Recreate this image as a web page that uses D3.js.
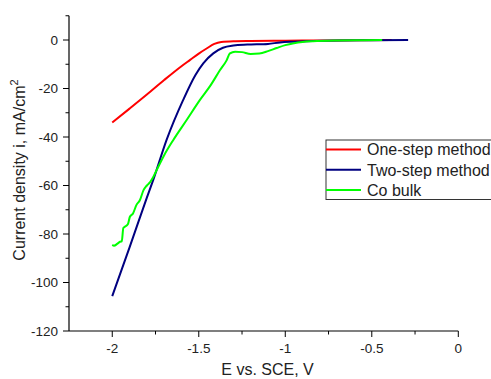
<!DOCTYPE html>
<html><head><meta charset="utf-8">
<script src="https://cdn.jsdelivr.net/npm/d3@7"></script>
<style>body{margin:0;background:#fff}svg{display:block;font-family:Arial,"Liberation Sans",sans-serif}</style>
</head><body>
<svg id="c" width="491" height="379"></svg>
<script>
const seriesNames = ["One-step method","Two-step method","Co bulk"];
const seriesColors = ["#ff0000","#000080","#00ff00"];
const oneStepE = [-2.0,-1.9,-1.8,-1.7,-1.6,-1.55,-1.5,-1.45,-1.41,-1.37,-1.3,-1.2,-1.0,-0.8,-0.6,-0.385];
const oneStepI = [-34,-28.3,-22.5,-16.5,-10.8,-8.2,-5.6,-3.3,-1.6,-0.8,-0.5,-0.4,-0.3,-0.2,-0.1,0];
const twoStepE = [-2,-1.9,-1.8,-1.763,-1.686,-1.59,-1.52,-1.474,-1.416,-1.36,-1.3,-1.22,-1.1,-1.03,-0.95,-0.84,-0.7,-0.5,-0.29];
const twoStepI = [-105.6,-85.5,-65,-57.7,-41.2,-24.7,-14.5,-9.6,-5.5,-3.2,-2.3,-1.9,-1.6,-1.0,-0.7,-0.4,-0.2,-0.1,0];
const coBulkE = [-2.0,-1.99,-1.97,-1.955,-1.945,-1.936,-1.927,-1.91,-1.898,-1.88,-1.86,-1.84,-1.82,-1.80,-1.78,-1.763,-1.743,-1.70,-1.647,-1.57,-1.493,-1.43,-1.377,-1.34,-1.32,-1.29,-1.25,-1.2,-1.15,-1.1,-1.05,-1.0,-0.95,-0.9,-0.84,-0.7,-0.55,-0.44];
const coBulkI = [-84.5,-84.8,-84,-83.2,-83.0,-77.5,-77,-76,-72.9,-71.5,-68,-66,-62,-60,-58.5,-56.5,-53.6,-47.5,-41.2,-33,-24.7,-18.5,-12.4,-8.5,-5.5,-4.8,-5.0,-5.8,-5.6,-4.6,-3.3,-2.1,-1.3,-0.8,-0.5,-0.2,-0.1,0];
const xMajor = [-2,-1.5,-1,-0.5,0];
const xMinor = [-1.75,-1.25,-0.75,-0.25];
const yMajor = [-120,-100,-80,-60,-40,-20,0];
const yMinor = [-110,-90,-70,-50,-30,-10,10];

const svg = d3.select("#c");
const x = d3.scaleLinear().domain([-2.25,0]).range([69,458.3]);
const y = d3.scaleLinear().domain([-120,10]).range([331,15.75]);

const fmt = d => (d===0?"0":String(d)).replace("-","-");
// x axis
const gx = svg.append("g").attr("transform","translate(0,331)");
gx.append("line").attr("x1",x.range()[0]).attr("x2",x.range()[1]).attr("stroke","#000").attr("stroke-width",1.2);
gx.selectAll(".mj").data(xMajor).join("line").attr("x1",d=>x(d)).attr("x2",d=>x(d)).attr("y1",0).attr("y2",6).attr("stroke","#000");
gx.selectAll(".mn").data(xMinor).join("line").attr("x1",d=>x(d)).attr("x2",d=>x(d)).attr("y1",0).attr("y2",3.5).attr("stroke","#000");
gx.selectAll("text").data(xMajor).join("text").attr("x",d=>x(d)).attr("y",22).attr("text-anchor","middle").attr("font-size",13.5).attr("fill","#222").text(fmt);
// y axis
const gy = svg.append("g").attr("transform","translate(69,0)");
gy.append("line").attr("y1",y.range()[0]).attr("y2",y.range()[1]).attr("stroke","#000").attr("stroke-width",1.2);
gy.selectAll(".mj").data(yMajor).join("line").attr("y1",d=>y(d)).attr("y2",d=>y(d)).attr("x1",0).attr("x2",-6).attr("stroke","#000");
gy.selectAll(".mn").data(yMinor).join("line").attr("y1",d=>y(d)).attr("y2",d=>y(d)).attr("x1",0).attr("x2",-3.5).attr("stroke","#000");
gy.selectAll("text").data(yMajor).join("text").attr("x",-11).attr("y",d=>y(d)).attr("dy","0.36em").attr("text-anchor","end").attr("font-size",13.5).attr("fill","#222").text(fmt);

// titles
svg.append("text").attr("x",267.5).attr("y",375).attr("text-anchor","middle").attr("font-size",16).attr("fill","#222").text("E vs. SCE, V");
const yt = svg.append("text").attr("transform","translate(25,170) rotate(-90)").attr("text-anchor","middle").attr("font-size",16).attr("fill","#222");
yt.append("tspan").text("Current density i, mA/cm");
yt.append("tspan").attr("font-size",11).attr("dy",-7).text("2");

// lines
const series = [[oneStepE,oneStepI],[twoStepE,twoStepI],[coBulkE,coBulkI]];
const line = d3.line().x(d=>x(d[0])).y(d=>y(d[1])).curve(d3.curveMonotoneX);
series.forEach((s,k)=>{
  const pts = s[0].map((e,i)=>[e,s[1][i]]);
  svg.append("path").attr("d",line(pts)).attr("fill","none").attr("stroke",seriesColors[k]).attr("stroke-width",2).attr("stroke-linejoin","round");
});

// legend
const lg = svg.append("g");
lg.append("rect").attr("x",326).attr("y",140).attr("width",200).attr("height",59.5).attr("fill","#fff").attr("stroke","#333").attr("stroke-width",1);
seriesNames.forEach((n,k)=>{
  const cy = 149.5 + k*20.3;
  lg.append("line").attr("x1",326).attr("x2",361).attr("y1",cy).attr("y2",cy).attr("stroke",seriesColors[k]).attr("stroke-width",2);
  lg.append("text").attr("x",367).attr("y",cy).attr("dy","0.36em").attr("font-size",16).attr("fill","#222").text(n);
});
</script>
</body></html>
